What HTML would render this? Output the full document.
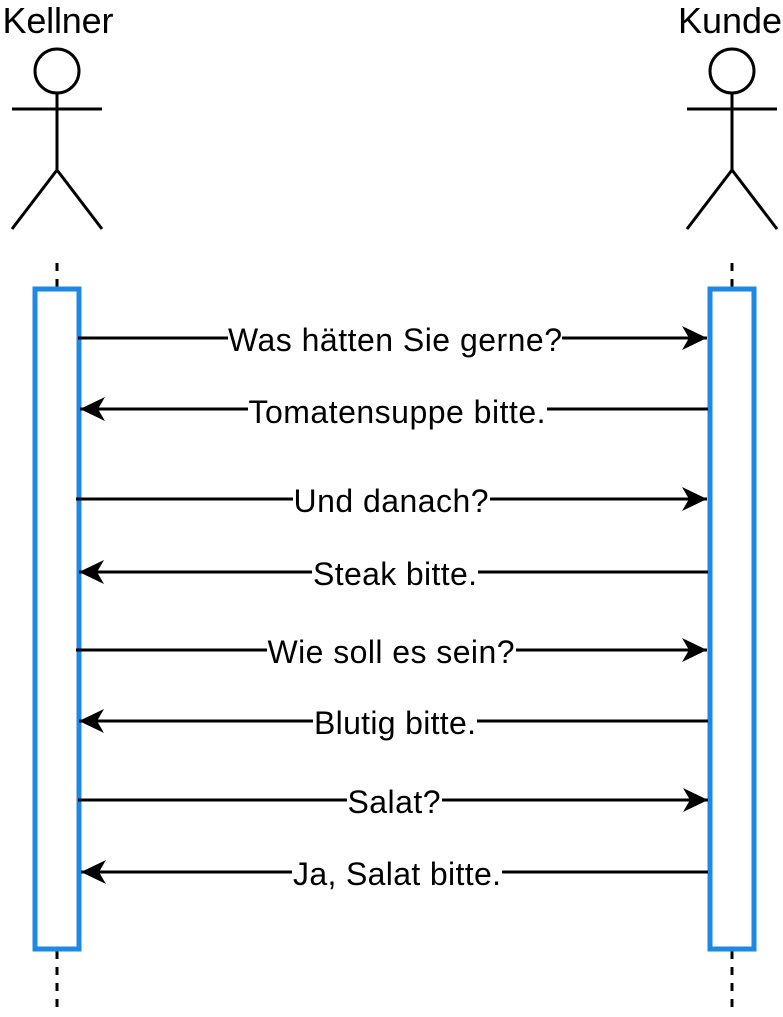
<!DOCTYPE html>
<html><head><meta charset="utf-8"><style>html,body{margin:0;padding:0;background:#fff}svg{display:block}</style></head>
<body>
<svg width="783" height="1017" viewBox="0 0 783 1017" xmlns="http://www.w3.org/2000/svg" font-family="Liberation Sans, sans-serif">
<defs>
<marker id="ah" markerWidth="26" markerHeight="26" viewBox="0 0 26 26" refX="25" refY="13" orient="auto" markerUnits="userSpaceOnUse">
<path d="M0,1 L25,13 L0,25 L7,13 Z" fill="#000"/>
</marker>
</defs>
<g fill="none" stroke="#000" stroke-width="3">
<circle cx="57" cy="71" r="22"/>
<line x1="57" y1="93" x2="57" y2="170"/>
<line x1="12" y1="109" x2="102" y2="109"/>
<polyline points="12,229 57,170 102,229"/>
<circle cx="732" cy="71" r="22"/>
<line x1="732" y1="93" x2="732" y2="170"/>
<line x1="687" y1="109" x2="777" y2="109"/>
<polyline points="687,229 732,170 777,229"/>
<g stroke-dasharray="8,8">
<line x1="57" y1="263" x2="57" y2="289"/>
<line x1="57" y1="951" x2="57" y2="1012"/>
<line x1="732" y1="263" x2="732" y2="289"/>
<line x1="732" y1="951" x2="732" y2="1012"/>
</g>
</g>
<rect x="35" y="289" width="44" height="660" fill="#fff" stroke="#1e88e5" stroke-width="5"/>
<rect x="710" y="289" width="44" height="660" fill="#fff" stroke="#1e88e5" stroke-width="5"/>
<text x="58" y="33" font-size="36" text-anchor="middle" textLength="111">Kellner</text>
<text x="730" y="33" font-size="36" text-anchor="middle" textLength="104">Kunde</text>
<g stroke="#000" stroke-width="3" marker-end="url(#ah)">
<line x1="78" y1="338" x2="707" y2="338"/>
<line x1="708" y1="409" x2="80" y2="409"/>
<line x1="76" y1="499" x2="707" y2="499"/>
<line x1="708" y1="572" x2="79" y2="572"/>
<line x1="76" y1="650" x2="707" y2="650"/>
<line x1="708" y1="721" x2="79" y2="721"/>
<line x1="78" y1="800" x2="708" y2="800"/>
<line x1="708" y1="872" x2="81" y2="872"/>
</g>
<g font-size="32" text-anchor="middle" fill="#000">
<rect x="228" y="322" width="334" height="34" fill="#fff"/><text x="395" y="351" textLength="334">Was hätten Sie gerne?</text>
<rect x="248" y="393" width="299" height="34" fill="#fff"/><text x="397" y="423" textLength="297">Tomatensuppe bitte.</text>
<rect x="293" y="483" width="197" height="34" fill="#fff"/><text x="391" y="512" textLength="195">Und danach?</text>
<rect x="312" y="556" width="166" height="34" fill="#fff"/><text x="395" y="585" textLength="164">Steak bitte.</text>
<rect x="267" y="634" width="249" height="34" fill="#fff"/><text x="391" y="663" textLength="247">Wie soll es sein?</text>
<rect x="313" y="705" width="164" height="34" fill="#fff"/><text x="395" y="734" textLength="162">Blutig bitte.</text>
<rect x="347" y="784" width="95" height="34" fill="#fff"/><text x="394" y="813" textLength="93">Salat?</text>
<rect x="292" y="856" width="210" height="34" fill="#fff"/><text x="397" y="885" textLength="208">Ja, Salat bitte.</text>
</g>
</svg>
</body></html>
